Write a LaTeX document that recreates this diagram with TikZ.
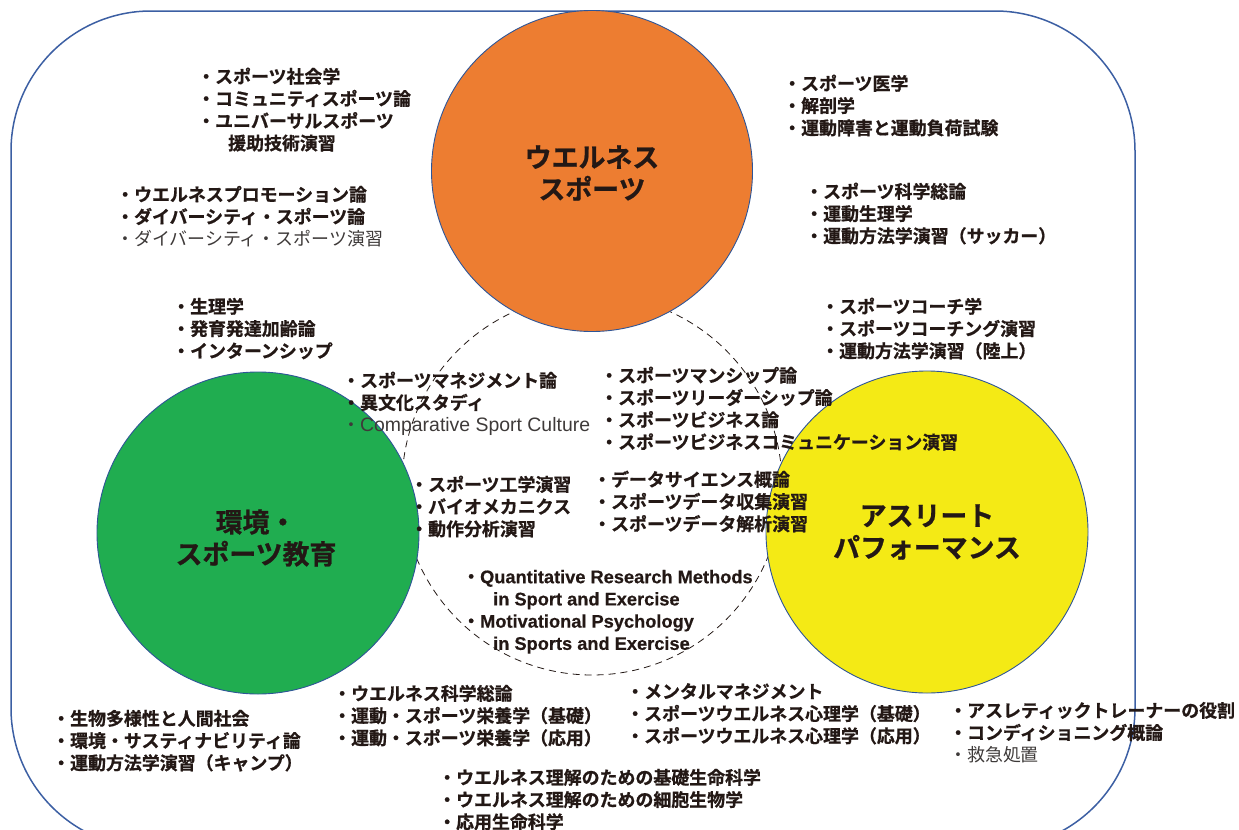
\documentclass[tikz,border=0pt]{standalone}
\usepackage{fontspec}
\setmainfont{Noto Sans CJK JP}[BoldFont={Noto Sans CJK JP Bold}, BoldFeatures={FakeBold=0.8}]
\newfontfamily\en{Liberation Sans}[BoldFeatures={FakeBold=0.5}]
\definecolor{ink}{HTML}{231815}
\definecolor{soft}{HTML}{3E3A39}
\definecolor{orangec}{HTML}{ED7D31}
\definecolor{greenc}{HTML}{20AD50}
\definecolor{yellowc}{HTML}{F4EA15}
\definecolor{rimc}{HTML}{2E5597}
\definecolor{framec}{HTML}{3C5FA3}
\newcommand{\fs}{\rule{0pt}{17bp}}
\newcommand{\gl}[1]{{\mdseries\color{soft}#1}}
\tikzset{
  lst/.style={anchor=north west, inner sep=0pt, align=left, text=ink,
    font=\bfseries\fontsize{18}{22.3}\selectfont},
  blob/.style={circle, draw=rimc, line width=0.9bp, inner sep=0pt, minimum size=#1},
  ttl/.style={inner sep=0pt, align=center, text=ink,
    font=\bfseries\fontsize{27}{32}\selectfont}
}
\begin{document}
\begin{tikzpicture}[x=1bp, y=-1bp]
\useasboundingbox (0,0) rectangle (1239,830);
\begin{scope}
\clip (0,0) rectangle (1239,830);
\draw[framec, line width=1.5bp, rounded corners=140bp] (11,11) rectangle (1135,848);
\end{scope}
% dashed common circle
\node[circle, draw=ink, dashed, dash pattern=on 7bp off 5bp, line width=0.8bp, minimum size=380bp, inner sep=0pt] (core) at (592,485) {};
% three circles
\node[blob=321bp, fill=orangec] (wel) at (592,171) {};
\node[blob=322bp, fill=greenc] (env) at (258,533) {};
\node[blob=322bp, fill=yellowc] (ath) at (927,532) {};
\node[ttl] (welT) at (592,173) {ウエルネス\\スポーツ};
\node[ttl] (envT) at (256,538) {環境・\\スポーツ教育};
\node[ttl] (athT) at (927,532) {アスリート\\パフォーマンス};
% text blocks
\node[lst] (A) at (197,66) {\fs・スポーツ社会学\\・コミュニティスポーツ論\\・ユニバーサルスポーツ\\\hspace*{31bp}援助技術演習};
\node[lst] (B) at (116,184) {\fs・ウエルネスプロモーション論\\・ダイバーシティ・スポーツ論\\\gl{・ダイバーシティ・スポーツ演習}};
\node[lst] (C) at (172,296) {\fs・生理学\\・発育発達加齢論\\・インターンシップ};
\node[lst] (D) at (783,73) {\fs・スポーツ医学\\・解剖学\\・運動障害と運動負荷試験};
\node[lst] (E) at (805,181) {\fs・スポーツ科学総論\\・運動生理学\\・運動方法学演習（サッカー）};
\node[lst] (F) at (821,296) {\fs・スポーツコーチ学\\・スポーツコーチング演習\\・運動方法学演習（陸上）};
\node[lst] (G) at (342,370) {\fs・スポーツマネジメント論\\・異文化スタディ\\\gl{・{\en\fontsize{19.5}{22.3}\selectfont Comparative Sport Culture}}};
\node[lst] (H) at (600,365) {\fs・スポーツマンシップ論\\・スポーツリーダーシップ論\\・スポーツビジネス論\\・スポーツビジネスコミュニケーション演習};
\node[lst] (I) at (410,474) {\fs・スポーツ工学演習\\・バイオメカニクス\\・動作分析演習};
\node[lst] (J) at (593,469) {\fs・データサイエンス概論\\・スポーツデータ収集演習\\・スポーツデータ解析演習};
\node[lst] (K) at (462,566) {\fs・{\en\fontsize{18.3}{22.3}\selectfont\bfseries Quantitative Research Methods}\\\hspace*{31bp}{\en\fontsize{18.3}{22.3}\selectfont\bfseries in Sport and Exercise}\\・{\en\fontsize{18.3}{22.3}\selectfont\bfseries Motivational Psychology}\\\hspace*{31bp}{\en\fontsize{18.3}{22.3}\selectfont\bfseries in Sports and Exercise}};
\node[lst] (L) at (52,708) {\fs・生物多様性と人間社会\\・環境・サスティナビリティ論\\・運動方法学演習（キャンプ）};
\node[lst] (M) at (333,683) {\fs・ウエルネス科学総論\\・運動・スポーツ栄養学（基礎）\\・運動・スポーツ栄養学（応用）};
\node[lst] (N) at (626,681) {\fs・メンタルマネジメント\\・スポーツウエルネス心理学（基礎）\\・スポーツウエルネス心理学（応用）};
\node[lst] (O) at (949,700) {\fs・アスレティックトレーナーの役割\\・コンディショニング概論\\\gl{・救急処置}};
\node[lst] (P) at (438,767) {\fs・ウエルネス理解のための基礎生命科学\\・ウエルネス理解のための細胞生物学\\・応用生命科学};
\end{tikzpicture}
\end{document}
